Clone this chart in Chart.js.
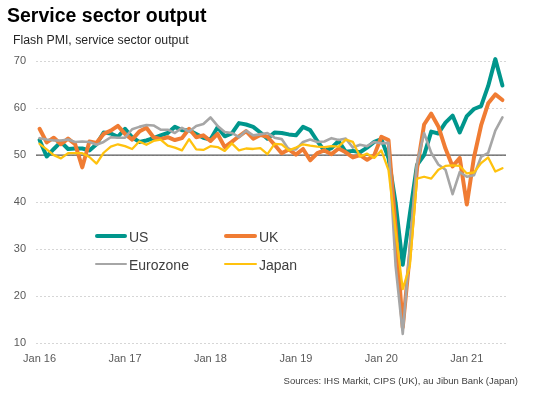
<!DOCTYPE html>
<html>
<head>
<meta charset="utf-8">
<script src="https://cdn.jsdelivr.net/npm/chart.js@4.4.1/dist/chart.umd.min.js"></script>
<style>
  body { margin: 0; background: #fff; }
  #wrap { position: relative; width: 536px; height: 395px; font-family: "Liberation Sans", Arial, sans-serif; }
  #wrap canvas { position: absolute; left: 0; top: 0; }
  .txt { position: absolute; white-space: nowrap; }
  .title { left: 7px; top: 6px; font-size: 19.5px; line-height: 19.5px; font-weight: bold; color: #000; }
  .subtitle { left: 13px; top: 34px; font-size: 12.3px; line-height: 12.3px; color: #262626; }
  .source { right: 18px; top: 376px; font-size: 9.5px; line-height: 9.5px; color: #404040; }
  .leg { position: absolute; font-size: 14px; line-height: 14px; color: #404040; white-space: nowrap; }
  .swatch { position: absolute; }
</style>
</head>
<body>
<div id="wrap">
  <canvas id="myChart" width="536" height="395"></canvas>
  <div class="txt title">Service sector output</div>
  <div class="txt subtitle">Flash PMI, service sector output</div>
  <div class="txt source">Sources: IHS Markit, CIPS (UK), au Jibun Bank (Japan)</div>
  <div id="legend"></div>
</div>
<script>
// monthly, Jan 16 .. Jun 21
const months = ['Jan', 'Feb', 'Mar', 'Apr', 'May', 'Jun', 'Jul', 'Aug', 'Sep', 'Oct', 'Nov', 'Dec'];
const years = ['16', '17', '18', '19', '20', '21'];
const monthCount = 66;

const seriesNames = ['US', 'UK', 'Eurozone', 'Japan'];
const seriesColors = ['#00968C', '#F07C33', '#A6A6A6', '#FFC20E'];

const us = [53.2, 49.7, 51.3, 52.8, 51.3, 51.4, 51.4, 51.0, 52.3, 54.8, 54.6, 53.9,
    55.6, 53.8, 52.8, 53.1, 53.6, 54.2, 54.7, 56.0, 55.3, 55.3, 54.5, 53.7,
    53.3, 55.9, 54.0, 54.6, 56.8, 56.5, 56.0, 54.8, 53.5, 54.8, 54.7, 54.4,
    54.2, 56.0, 55.3, 53.0, 50.9, 51.5, 53.0, 50.7, 50.9, 50.6, 51.6, 52.8,
    53.4, 49.4, 39.8, 26.7, 37.5, 47.9, 50.0, 55.0, 54.6, 56.9, 58.4, 54.8,
    58.3, 59.8, 60.4, 64.7, 70.4, 64.8];

const uk = [55.6, 52.7, 53.7, 52.3, 53.5, 52.3, 47.4, 52.9, 52.6, 54.5, 55.2, 56.2,
    54.5, 53.3, 55.0, 55.8, 53.8, 53.4, 53.8, 53.2, 53.6, 55.6, 53.8, 54.2,
    53.0, 54.5, 51.7, 52.8, 54.0, 55.1, 53.5, 54.3, 53.9, 52.2, 50.4, 51.2,
    50.1, 51.3, 48.9, 50.4, 51.0, 50.2, 51.4, 50.6, 49.5, 50.0, 49.0, 50.0,
    53.9, 53.2, 34.5, 13.4, 29.0, 47.1, 56.5, 58.8, 56.1, 51.4, 47.6, 49.4,
    39.5, 49.5, 56.3, 61.0, 62.9, 61.7];

const eurozone = [53.6, 53.3, 53.1, 53.1, 53.3, 52.8, 52.9, 52.8, 52.2, 52.8, 53.8, 53.7,
    53.7, 55.5, 56.0, 56.4, 56.3, 55.4, 55.4, 54.7, 55.8, 55.0, 56.2, 56.6,
    58.0, 56.2, 54.9, 54.7, 53.8, 55.2, 54.2, 54.4, 54.7, 53.7, 53.4, 51.2,
    51.2, 52.8, 53.3, 52.8, 52.9, 53.6, 53.2, 53.5, 51.6, 52.2, 51.9, 52.8,
    52.5, 52.6, 26.4, 12.0, 30.5, 48.3, 54.7, 50.5, 48.0, 46.9, 41.7, 46.4,
    45.4, 45.7, 49.6, 50.5, 55.2, 58.0];

const japan = [52.4, 51.2, 50.0, 49.3, 50.4, 50.4, 50.4, 49.6, 48.2, 50.5, 51.8, 52.3,
    51.9, 51.3, 52.9, 52.2, 53.0, 53.3, 52.0, 51.6, 51.0, 53.4, 51.2, 51.1,
    51.9, 51.7, 50.9, 52.5, 51.0, 51.4, 51.3, 51.5, 50.2, 52.4, 52.3, 51.0,
    51.6, 52.3, 52.0, 51.8, 51.7, 51.9, 51.8, 53.3, 52.8, 49.7, 50.3, 49.4,
    51.0, 46.8, 33.8, 21.5, 26.5, 45.0, 45.4, 45.0, 46.9, 47.7, 47.8, 47.7,
    46.1, 46.3, 48.3, 49.5, 46.5, 47.2];

const yMin = 10;
const yMax = 70;
const yStep = 10;
const refLine = 50;

let labels = [];
for (let i = 0; i < monthCount; i++) {
    labels.push(months[i % 12] + ' ' + years[Math.floor(i / 12)]);
}

// solid line at 50, drawn under the series
const refLinePlugin = {
    id: 'refLine',
    beforeDatasetsDraw(chart) {
        const ctx = chart.ctx;
        const area = chart.chartArea;
        const y = chart.scales.y.getPixelForValue(refLine);
        ctx.save();
        ctx.strokeStyle = '#595959';
        ctx.lineWidth = 1.2;
        ctx.beginPath();
        ctx.moveTo(area.left, y);
        ctx.lineTo(area.right, y);
        ctx.stroke();
        ctx.restore();
    }
};

const allData = [us, uk, eurozone, japan];
const widths = [4, 4, 2.6, 2.3];

const ctx = document.getElementById('myChart').getContext('2d');
let chart = new Chart(ctx, {
    type: 'line',
    data: {
        labels: labels,
        datasets: allData.map((d, i) => ({
            label: seriesNames[i],
            data: d,
            borderColor: seriesColors[i],
            backgroundColor: seriesColors[i],
            borderWidth: widths[i],
            pointRadius: 0,
            tension: 0,
            borderJoinStyle: 'round',
            borderCapStyle: 'round',
            clip: false,
            order: allData.length - i
        }))
    },
    options: {
        responsive: false,
        animation: false,
        layout: { padding: { top: 61, right: 30, bottom: 0, left: 0 } },
        plugins: {
            legend: { display: false },
            tooltip: { enabled: false },
            title: { display: false }
        },
        scales: {
            x: {
                offset: true,
                grid: { display: false },
                border: { display: false },
                ticks: {
                    autoSkip: false,
                    maxRotation: 0,
                    minRotation: 0,
                    padding: 1,
                    color: '#595959',
                    font: { family: 'Liberation Sans', size: 11 },
                    callback: function (value, index) {
                        return index % 12 === 0 ? labels[index] : '';
                    }
                },
                afterFit: scale => { scale.height = 51.7; }
            },
            y: {
                min: yMin,
                max: yMax,
                border: { display: false, dash: [2, 2] },
                grid: { color: '#D6D6D6', drawTicks: false, lineWidth: 1 },
                ticks: {
                    stepSize: yStep,
                    padding: 10,
                    color: '#595959',
                    font: { family: 'Liberation Sans', size: 11 }
                },
                afterFit: scale => { scale.width = 36; }
            }
        }
    },
    plugins: [refLinePlugin]
});

// legend, two columns inside the plot
const legendPos = [[95, 236], [224, 236], [95, 264], [224, 264]];
const legend = document.getElementById('legend');
seriesNames.forEach((name, i) => {
    const [lx, ly] = legendPos[i];
    const sw = document.createElement('div');
    sw.className = 'swatch';
    sw.style.left = lx + 'px';
    sw.style.top = (ly - widths[i] / 2) + 'px';
    sw.style.width = (i % 2 === 0 ? 32 : 33) + 'px';
    sw.style.height = widths[i] + 'px';
    sw.style.borderRadius = (widths[i] / 2) + 'px';
    sw.style.background = seriesColors[i];
    legend.appendChild(sw);
    const tx = document.createElement('div');
    tx.className = 'leg';
    tx.style.left = (lx + (i % 2 === 0 ? 34 : 35)) + 'px';
    tx.style.top = (ly - 6.5) + 'px';
    tx.textContent = name;
    legend.appendChild(tx);
});
</script>
</body>
</html>
